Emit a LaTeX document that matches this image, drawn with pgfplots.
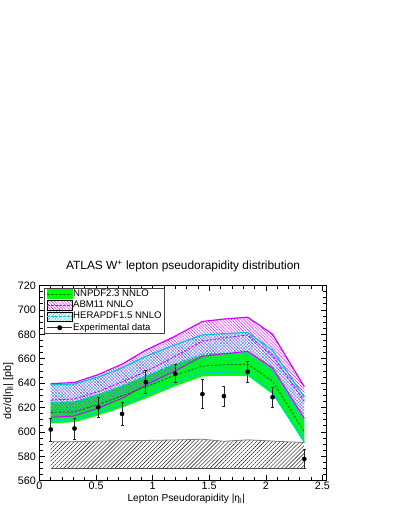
\documentclass[border=0pt]{standalone}
\usepackage{fontspec}
\setmainfont{Liberation Sans}
\usepackage{pgfplots}
\usepackage{pgfplotstable}
\pgfplotsset{compat=1.18}
\usepgfplotslibrary{fillbetween}
\usetikzlibrary{patterns.meta}
\definecolor{rgreen}{RGB}{0,255,0}
\definecolor{dgreen}{RGB}{0,130,0}
\definecolor{rmag}{RGB}{210,0,255}
\definecolor{rcyan}{RGB}{0,200,220}

\pgfplotstableread{
x    abmt  herat abmc  herac nnt   abml  nnc   heral nnl
0.10 639.5 638.5 626.0 623.8 624.5 612.0 616.0 609.0 607.0
0.31 640.5 639.3 627.0 624.6 625.0 613.0 616.5 610.0 608.0
0.52 647.0 645.0 633.0 630.3 631.0 619.5 622.5 615.5 613.5
0.73 655.5 652.5 641.0 637.3 638.0 627.5 629.5 622.0 620.0
0.94 667.0 662.0 649.5 646.0 646.0 638.5 637.0 630.0 627.5
1.20 678.5 671.5 662.0 655.8 655.5 650.0 646.5 640.0 637.5
1.44 690.5 679.5 674.5 664.0 663.0 662.0 654.0 648.5 645.5
1.63 692.5 680.5 677.0 664.5 664.5 664.0 655.0 648.5 646.0
1.84 694.0 681.5 679.5 664.8 665.5 666.0 655.5 648.0 646.0
2.06 680.0 667.0 662.5 649.8 652.0 652.5 641.5 632.5 631.0
2.34 637.0 628.5 625.0 610.0 609.5 611.0 600.0 591.5 591.0
}\bands

\pgfplotstableread{
x    y     e
0.10 602.0 9.3
0.31 602.8 8.5
0.52 620.2 8.5
0.73 614.8 9.4
0.94 640.9 9.3
1.20 647.7 7.3
1.44 631.0 12.0
1.63 629.3 8.0
1.84 649.3 8.3
2.06 628.4 8.0
2.34 577.9 8.0
}\data

\pgfplotstableread{
x    s
0.10 592.0
0.31 592.0
0.52 592.5
0.73 592.8
0.94 593.0
1.20 593.4
1.44 594.0
1.63 592.3
1.84 593.5
2.06 592.5
2.34 591.2
}\sys

\begin{document}
\begin{tikzpicture}
\begin{axis}[
  at={(37.7pt,27.3pt)}, anchor=south west,
  scale only axis, width=287.3pt, height=195.2pt,
  xmin=0, xmax=2.538, ymin=560, ymax=720,
  xtick={0,0.5,1,1.5,2,2.5}, ytick={560,580,...,720},
  minor x tick num=4, minor y tick num=3,
  xtick pos=both, ytick pos=both,
  tick align=inside,
  major tick length=6pt, minor tick length=3.3pt,
  every tick/.style={black, line width=0.6pt},
  axis line style={line width=0.8pt},
  /pgf/number format/assume math mode=true,
  tick label style={font=\fontsize{10.8}{12}\selectfont},
  xticklabel style={inner sep=1pt},
  title={ATLAS W\textsuperscript{+} lepton pseudorapidity distribution},
  title style={font=\fontsize{11.9}{14}\selectfont, yshift=4pt},
  xlabel={Lepton Pseudorapidity |η\textsubscript{l}|},
  ylabel={dσ/d|η\textsubscript{l}| [pb]},
  xlabel style={font=\fontsize{10.2}{12}\selectfont, at={(axis description cs:0.511,-0.1076)}, anchor=base},
  ylabel style={font=\fontsize{10.8}{12}\selectfont, at={(axis description cs:-0.108,0.46)}, anchor=center, rotate=0},
  legend style={at={(axis description cs:0.0174,0.989)}, anchor=north west,
    draw=black!75, line width=0.7pt, font=\fontsize{9.6}{12}\selectfont,
    inner xsep=2pt, inner ysep=1pt, row sep=1pt,
    nodes={inner sep=0.6pt, text height=7pt, text depth=2pt}},
  legend cell align=left,
]
\addlegendimage{legend image code/.code={\fill[rgreen] (0pt,-4.6pt) rectangle (25pt,4.6pt); \draw[dgreen,dash pattern=on 2.5pt off 1.5pt,line width=0.8pt] (0pt,0pt)--(25pt,0pt);}}
\addlegendentry{NNPDF2.3 NNLO}
\addlegendimage{legend image code/.code={\fill[pattern={Lines[angle=-45,distance=2.2pt,line width=0.4pt]},pattern color=rmag] (0pt,-4.6pt) rectangle (25pt,4.6pt); \draw[rmag,dash pattern=on 2.5pt off 1.5pt,line width=0.8pt] (0pt,0pt)--(25pt,0pt);}}
\addlegendentry{ABM11 NNLO}
\addlegendimage{legend image code/.code={\fill[pattern={Lines[angle=45,distance=2.2pt,line width=0.4pt]},pattern color=rcyan] (0pt,-4.6pt) rectangle (25pt,4.6pt); \draw[rcyan,dash pattern=on 2.5pt off 1.5pt,line width=0.8pt] (0pt,0pt)--(25pt,0pt);}}
\addlegendentry{HERAPDF1.5 NNLO}
\addlegendimage{legend image code/.code={\draw[black!80,line width=0.8pt] (0pt,0pt)--(25pt,0pt); \fill[black] (12.5pt,0pt) circle (2.1pt);}}
\addlegendentry{Experimental data}

% systematic band
\addplot[name path=st, draw=none, forget plot] table[x=x,y=s]{\sys};
\addplot[name path=sb, draw=none, forget plot] coordinates {(0.1,570) (2.34,570)};
\addplot[pattern={Lines[angle=45,distance=2.8pt,line width=0.4pt]}, pattern color=black, draw=none, forget plot] fill between[of=st and sb];
\addplot[gray, line width=0.8pt, forget plot] table[x=x,y=s]{\sys};
\addplot[black!70, line width=0.8pt, forget plot] coordinates {(0.1,570) (2.34,570)};

% band paths
\addplot[name path=nnt, draw=none, forget plot] table[x=x,y=nnt]{\bands};
\addplot[name path=nnl, draw=none, forget plot] table[x=x,y=nnl]{\bands};
\addplot[name path=abmt, draw=none, forget plot] table[x=x,y=abmt]{\bands};
\addplot[name path=abml, draw=none, forget plot] table[x=x,y=abml]{\bands};
\addplot[name path=herat, draw=none, forget plot] table[x=x,y=herat]{\bands};
\addplot[name path=heral, draw=none, forget plot] table[x=x,y=heral]{\bands};

\addplot[fill=rgreen, draw=none, forget plot] fill between[of=nnt and nnl];
\addplot[pattern={Lines[angle=-45,distance=2.2pt,line width=0.4pt]}, pattern color=rmag, draw=none, forget plot] fill between[of=abmt and abml];
\addplot[pattern={Lines[angle=45,distance=2.2pt,line width=0.4pt]}, pattern color=rcyan, draw=none, forget plot] fill between[of=herat and heral];

% band lines
\addplot[rmag, line width=1.2pt, forget plot] table[x=x,y=abmt]{\bands};
\addplot[rcyan, line width=1.2pt, forget plot] table[x=x,y=herat]{\bands};
\addplot[rmag, line width=0.9pt, dash pattern=on 2.5pt off 1.5pt, forget plot] table[x=x,y=abmc]{\bands};
\addplot[rcyan, line width=0.9pt, dash pattern=on 2.5pt off 1.5pt, forget plot] table[x=x,y=herac]{\bands};
\addplot[rmag, line width=1pt, forget plot] table[x=x,y=abml]{\bands};
\addplot[dgreen, line width=0.9pt, dash pattern=on 2.5pt off 1.5pt, forget plot] table[x=x,y=nnc]{\bands};
\addplot[rcyan, line width=1pt, forget plot] table[x=x,y=heral]{\bands};

% data
\addplot[only marks, mark=*, mark size=2.1pt, black, forget plot,
  error bars/.cd, y dir=both, y explicit,
  error bar style={line width=0.8pt, black!85},
  error mark options={rotate=90, mark size=1.5pt, line width=0.6pt}]
  table[x=x, y=y, y error=e]{\data};
\end{axis}
\path (0,0) rectangle (392pt,508pt);
\end{tikzpicture}
\end{document}
